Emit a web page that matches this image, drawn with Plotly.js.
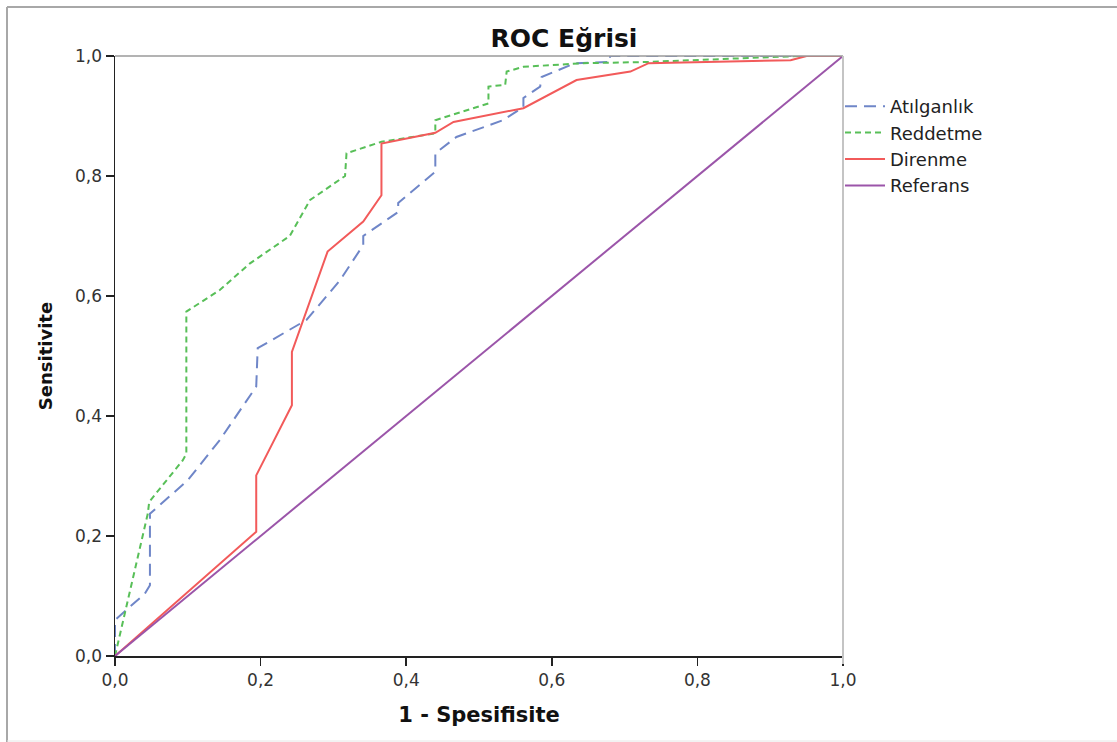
<!DOCTYPE html>
<html>
<head>
<meta charset="utf-8">
<script src="https://cdn.plot.ly/plotly-3.0.1.min.js"></script>
<style>
html,body{margin:0;padding:0;background:#fff;}
#chart{width:1117px;height:742px;}
</style>
</head>
<body>
<div id="chart"></div>
<script>
// ---- data ----
const seriesNames = ["Atılganlık", "Reddetme", "Direnme", "Referans"];

const atilganlikX = [0, 0, 0.041, 0.048, 0.048, 0.100, 0.144, 0.194, 0.196, 0.263, 0.309, 0.341, 0.341, 0.389, 0.389, 0.440, 0.440, 0.469, 0.533, 0.561, 0.561, 0.584, 0.586, 0.632, 0.680, 0.680, 1.0];
const atilganlikY = [0, 0.060, 0.104, 0.118, 0.237, 0.293, 0.360, 0.449, 0.513, 0.560, 0.626, 0.685, 0.700, 0.740, 0.755, 0.807, 0.838, 0.865, 0.893, 0.915, 0.930, 0.949, 0.965, 0.988, 0.990, 1.0, 1.0];

const reddetmeX = [0, 0.013, 0.045, 0.047, 0.093, 0.098, 0.098, 0.144, 0.185, 0.240, 0.268, 0.316, 0.318, 0.366, 0.440, 0.440, 0.513, 0.513, 0.536, 0.538, 0.561, 0.643, 0.730, 0.940, 1.0];
const reddetmeY = [0, 0.070, 0.237, 0.257, 0.326, 0.337, 0.574, 0.610, 0.654, 0.700, 0.760, 0.800, 0.838, 0.857, 0.871, 0.893, 0.921, 0.949, 0.952, 0.974, 0.982, 0.988, 0.990, 1.0, 1.0];

const direnmeX = [0, 0.194, 0.194, 0.243, 0.243, 0.292, 0.341, 0.366, 0.366, 0.440, 0.465, 0.561, 0.634, 0.708, 0.733, 0.928, 0.950, 1.0];
const direnmeY = [0, 0.207, 0.301, 0.418, 0.507, 0.674, 0.724, 0.768, 0.854, 0.872, 0.890, 0.913, 0.960, 0.974, 0.988, 0.993, 1.0, 1.0];

const referansX = [0, 1];
const referansY = [0, 1];

const tickVals = [0, 0.2, 0.4, 0.6, 0.8, 1.0];
const tickLabels = ["0,0", "0,2", "0,4", "0,6", "0,8", "1,0"];

const chartTitle = "ROC Eğrisi";
const xTitle = "1 - Spesifisite";
const yTitle = "Sensitivite";

// ---- layout constants ----
const W = 1117, H = 742;
const ML = 115, MR = 274, MT = 56, MB = 86;
const PW = W - ML - MR, PH = H - MT - MB;
const px2x = p => (p - ML) / PW;
const py2y = p => (H - MB - p) / PH;

const FONT = "DejaVu Sans";

const traces = [
  {x: atilganlikX, y: atilganlikY, name: seriesNames[0], mode: "lines",
   line: {color: "#6f86c8", width: 2, dash: "12px,7px"}},
  {x: reddetmeX, y: reddetmeY, name: seriesNames[1], mode: "lines",
   line: {color: "#58bf58", width: 2, dash: "6px,4px"}},
  {x: direnmeX, y: direnmeY, name: seriesNames[2], mode: "lines",
   line: {color: "#f25a5a", width: 2}},
  {x: referansX, y: referansY, name: seriesNames[3], mode: "lines",
   line: {color: "#9b55a9", width: 2}}
];

const layout = {
  width: W, height: H,
  margin: {l: ML, r: MR, t: MT, b: MB, pad: 0},
  paper_bgcolor: "#ffffff",
  plot_bgcolor: "#ffffff",
  showlegend: true,
  title: {
    text: chartTitle,
    font: {family: FONT, size: 25, color: "#111", weight: "bold"},
    xref: "container", yref: "container",
    x: 564 / W, y: 1 - 38 / H, xanchor: "center", yanchor: "middle"
  },
  xaxis: {
    range: [0, 1], tickvals: tickVals, ticktext: tickLabels,
    ticks: "outside", ticklen: 8, tickwidth: 1.5, tickcolor: "#222",
    showline: true, linecolor: "#222", linewidth: 1.5,
    showgrid: false, zeroline: false, fixedrange: true,
    tickfont: {family: FONT, size: 17, color: "#333"},
    title: {text: xTitle, font: {family: FONT, size: 21, color: "#111", weight: "bold"}, standoff: 18}
  },
  yaxis: {
    range: [0, 1], tickvals: tickVals, ticktext: tickLabels,
    ticks: "outside", ticklen: 8, tickwidth: 1.5, tickcolor: "#222",
    showline: true, linecolor: "#222", linewidth: 1.5,
    showgrid: false, zeroline: false, fixedrange: true,
    tickfont: {family: FONT, size: 17, color: "#333"},
    title: {text: yTitle, font: {family: FONT, size: 18, color: "#111", weight: "bold"}, standoff: 18}
  },
  legend: {
    x: px2x(840), xanchor: "left", y: py2y(88), yanchor: "top",
    bgcolor: "rgba(0,0,0,0)", borderwidth: 0,
    font: {family: FONT, size: 18, color: "#222"},
    itemwidth: 40, tracegroupgap: 0
  },
  shapes: [
    // top and right frame of plot area (gray)
    {type: "line", xref: "paper", yref: "paper", x0: 0, x1: 1, y0: 1, y1: 1,
     line: {color: "#9a9a9a", width: 1.5}},
    {type: "line", xref: "paper", yref: "paper", x0: 1, x1: 1, y0: 1, y1: py2y(664),
     line: {color: "#c4c4c4", width: 2}},
    // outer image frame
    {type: "line", xref: "paper", yref: "paper", x0: px2x(7), x1: px2x(W), y0: py2y(7), y1: py2y(7),
     line: {color: "#a8a8a8", width: 2}},
    {type: "line", xref: "paper", yref: "paper", x0: px2x(7), x1: px2x(7), y0: py2y(7), y1: py2y(H),
     line: {color: "#a8a8a8", width: 2}},
    {type: "line", xref: "paper", yref: "paper", x0: px2x(7), x1: px2x(W), y0: py2y(741), y1: py2y(741),
     line: {color: "#e6e6e6", width: 1}}
  ]
};

Plotly.newPlot("chart", traces, layout, {displayModeBar: false, staticPlot: true});
</script>
</body>
</html>
